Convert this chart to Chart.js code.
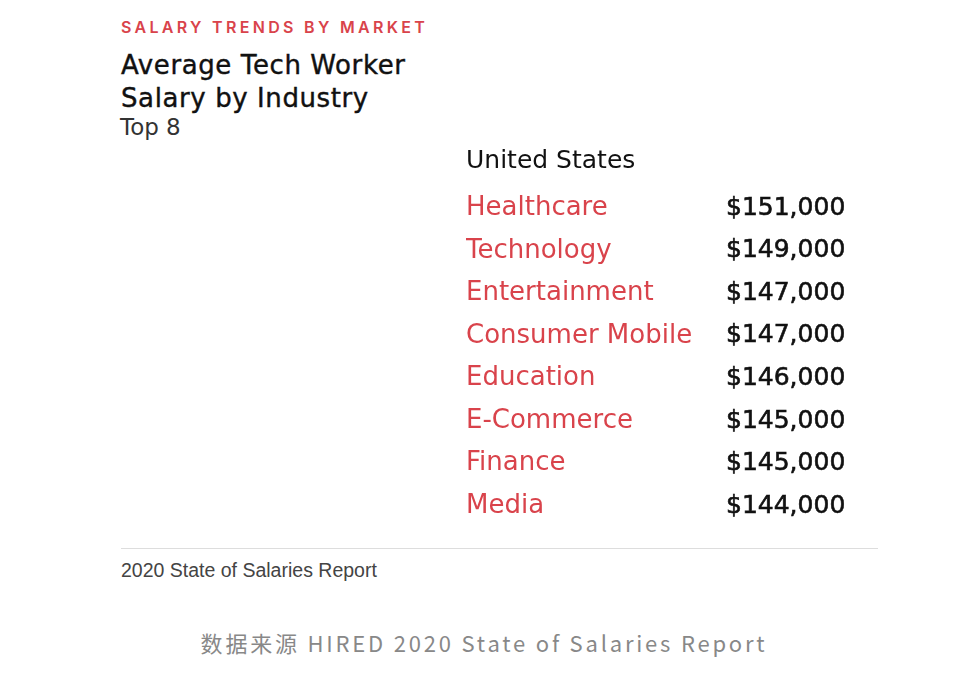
<!DOCTYPE html>
<html>
<head>
<meta charset="utf-8">
<script src="https://cdn.jsdelivr.net/npm/chart.js@4"></script>
<style>
  body { margin: 0; width: 968px; height: 686px; background: #fff; position: relative; font-family: "DejaVu Sans", sans-serif; overflow: hidden; }
  .kicker { position: absolute; left: 121px; top: 17px; font-family: Inter, sans-serif; font-size: 16px; font-weight: 600; letter-spacing: 3.3px; color: #d9434b; }
  .title { position: absolute; left: 121px; top: 49px; font-size: 26px; letter-spacing: 0.6px; line-height: 33px; color: #111; -webkit-text-stroke: 0.4px #111; }
  .sub { position: absolute; left: 120px; top: 114px; font-size: 23px; color: #333; }
  .rule { position: absolute; left: 121px; top: 548px; width: 757px; height: 1px; background: #ddd; }
  .report { position: absolute; left: 121px; top: 559px; font-family: "Liberation Sans", sans-serif; font-size: 19.5px; color: #444; }
  .source { position: absolute; left: 0; width: 968px; top: 626px; text-align: center; font-family: "Noto Sans CJK SC", sans-serif; font-size: 22px; letter-spacing: 2.8px; color: #888; }
  #wrap { position: absolute; left: 466px; top: 141px; width: 434px; height: 402px; }
</style>
</head>
<body>
<div class="kicker">SALARY TRENDS BY MARKET</div>
<div class="title">Average Tech Worker<br>Salary by Industry</div>
<div class="sub">Top 8</div>
<div id="wrap"><canvas id="salaryChart"></canvas></div>
<div class="rule"></div>
<div class="report">2020 State of Salaries Report</div>
<div class="source">数据来源 HIRED 2020 State of Salaries Report</div>
<script>
const industries = ['Healthcare', 'Technology', 'Entertainment', 'Consumer Mobile', 'Education', 'E-Commerce', 'Finance', 'Media'];
const salaries = [151000, 149000, 147000, 147000, 146000, 145000, 145000, 144000];
const region = 'United States';

const money = (v) => '$' + v.toLocaleString('en-US');

// draws the salary next to each (invisible) bar
const salaryLabels = {
    id: 'salaryLabels',
    afterDatasetsDraw(chart) {
        const ctx = chart.ctx;
        const meta = chart.getDatasetMeta(0);
        ctx.save();
        ctx.font = '25px "DejaVu Sans"';
        ctx.fillStyle = '#111';
        ctx.strokeStyle = '#111';
        ctx.lineWidth = 0.6;
        ctx.textAlign = 'left';
        ctx.textBaseline = 'middle';
        meta.data.forEach((bar, i) => {
            ctx.fillText(money(salaries[i]), bar.base, bar.y);
            ctx.strokeText(money(salaries[i]), bar.base, bar.y);
        });
        ctx.restore();
    }
};

window.onload = function () {
    const ctx = document.getElementById('salaryChart');
    const data = {
        labels: industries,
        datasets: [{
            label: 'Average salary',
            data: salaries,
            backgroundColor: 'rgba(0,0,0,0)'
        }]
    };
    const config = {
        type: 'bar',
        data: data,
        plugins: [salaryLabels],
        options: {
            indexAxis: 'y',
            responsive: true,
            maintainAspectRatio: false,
            animation: false,
            layout: { padding: 0 },
            plugins: {
                legend: { display: false },
                tooltip: { enabled: false },
                title: {
                    display: true,
                    text: region,
                    align: 'start',
                    color: '#111',
                    font: { family: 'DejaVu Sans', size: 25, weight: 'normal' },
                    padding: { top: 5, bottom: 11 }
                }
            },
            scales: {
                x: { display: false, min: 0, max: 160000 },
                y: {
                    grid: { display: false },
                    border: { display: false },
                    afterFit: (scale) => { scale.width = 260; },
                    ticks: {
                        crossAlign: 'far',
                        padding: 0,
                        color: '#d9434b',
                        font: { family: 'DejaVu Sans', size: 26 }
                    }
                }
            }
        }
    };
    new Chart(ctx, config);
};
</script>
</body>
</html>
